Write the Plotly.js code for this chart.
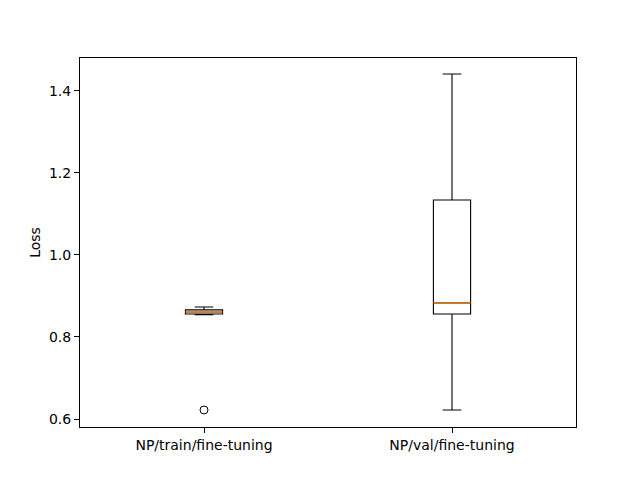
<!DOCTYPE html>
<html>
<head>
<meta charset="utf-8">
<script src="https://cdn.plot.ly/plotly-3.0.1.min.js"></script>
<style>
  html, body { margin: 0; padding: 0; background: #fff; }
  #graph { width: 640px; height: 480px; }
</style>
</head>
<body>
<div id="graph"></div>
<script>
  // Box statistics
  var categories = ['NP/train/fine-tuning', 'NP/val/fine-tuning'];
  var positions = [1, 2];
  var lowerWhisker = [0.854, 0.622];
  var q1 = [0.856, 0.856];
  var median = [0.861, 0.883];
  var q3 = [0.866, 1.134];
  var upperWhisker = [0.873, 1.441];
  var outlierX = [1];
  var outlierY = [0.622];

  var boxWidth = 0.15;

  var traces = [{
    type: 'box',
    x: positions,
    q1: q1,
    median: median,
    q3: q3,
    lowerfence: lowerWhisker,
    upperfence: upperWhisker,
    width: boxWidth,
    whiskerwidth: 0.5,
    line: { color: 'black', width: 1.1 },
    fillcolor: 'rgba(0,0,0,0)',
    boxpoints: false,
    hoverinfo: 'skip'
  }];

  // orange median lines, like matplotlib draws them
  positions.forEach(function (p, i) {
    traces.push({
      type: 'scatter',
      mode: 'lines',
      x: [p - boxWidth / 2, p + boxWidth / 2],
      y: [median[i], median[i]],
      line: { color: '#ff7f0e', width: 1.3 },
      hoverinfo: 'skip'
    });
  });

  // fliers
  traces.push({
    type: 'scatter',
    mode: 'markers',
    x: outlierX,
    y: outlierY,
    marker: { symbol: 'circle-open', size: 8, color: 'black', line: { width: 1, color: 'black' } },
    hoverinfo: 'skip'
  });

  var axisFont = { family: 'DejaVu Sans', size: 14, color: 'black' };

  var layout = {
    width: 640,
    height: 480,
    margin: { l: 80, r: 64, t: 58, b: 53 },
    paper_bgcolor: 'white',
    plot_bgcolor: 'white',
    showlegend: false,
    font: axisFont,
    xaxis: {
      range: [0.5, 2.5],
      tickvals: positions,
      ticktext: categories,
      ticks: 'outside',
      ticklen: 5,
      tickcolor: 'black',
      showgrid: false,
      zeroline: false,
      showline: true,
      linecolor: 'black',
      linewidth: 1,
      mirror: true,
      tickfont: axisFont
    },
    yaxis: {
      range: [0.5805, 1.480],
      tickvals: [0.6, 0.8, 1.0, 1.2, 1.4],
      ticktext: ['0.6', '0.8', '1.0', '1.2', '1.4'],
      ticks: 'outside',
      ticklen: 5,
      tickcolor: 'black',
      showgrid: false,
      zeroline: false,
      showline: true,
      linecolor: 'black',
      linewidth: 1,
      mirror: true,
      tickfont: axisFont,
      title: { text: 'Loss', font: axisFont, standoff: 5 }
    }
  };

  Plotly.newPlot('graph', traces, layout, { displayModeBar: false, staticPlot: true });
</script>
</body>
</html>
